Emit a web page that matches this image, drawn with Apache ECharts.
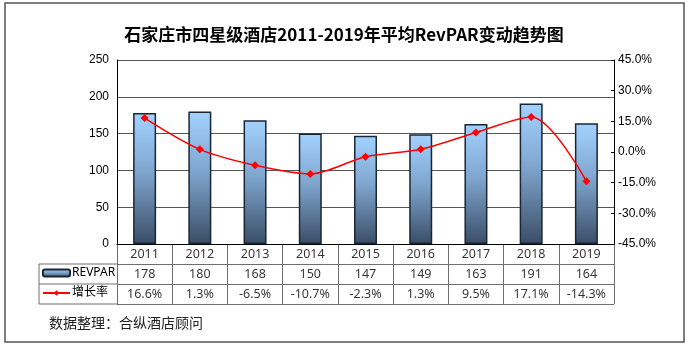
<!DOCTYPE html>
<html><head><meta charset="utf-8">
<script src="https://cdn.jsdelivr.net/npm/echarts@6/dist/echarts.min.js"></script>
<style>html,body{margin:0;padding:0;background:#fff}#c{width:688px;height:348px}</style>
</head><body><div id="c"></div>
<script>
var years = ['2011','2012','2013','2014','2015','2016','2017','2018','2019'];
var revpar = [178, 180, 168, 150, 147, 149, 163, 191, 164];
var growth = [16.6, 1.3, -6.5, -10.7, -2.3, 1.3, 9.5, 17.1, -14.3];
var leftTicks = [0, 50, 100, 150, 200, 250];
var rightTicks = [-45, -30, -15, 0, 15, 30, 45];

var chart = echarts.init(document.getElementById('c'), null, {renderer:'canvas'});
var GL = 117, GR = 688-614, GT = 60, GH = 184;
var FONT = "'Liberation Sans', Arial, sans-serif";
var TFONT = "'Noto Sans', 'Noto Sans CJK SC', sans-serif";

var tableData = [];
years.forEach(function(y,i){
  tableData.push([i, 2.5, y]);
  tableData.push([i, 1.5, String(revpar[i])]);
  tableData.push([i, 0.5, growth[i].toFixed(1) + '%']);
});

var option = {
  backgroundColor: '#fff',
  animation: false,
  title: {
    text: '石家庄市四星级酒店2011-2019年平均RevPAR变动趋势图',
    left: 'center', top: 21,
    textStyle: {fontFamily: "'Noto Sans CJK SC', sans-serif", fontSize: 17, fontWeight: 'bold', color: '#000'}
  },
  legend: [
    {data: ['REVPAR'], left: 42, top: 267, orient: 'vertical', itemWidth: 27, itemHeight: 7, itemGap: 2,
     textStyle: {fontFamily: TFONT, fontSize: 12, color: '#000', padding: [0,0,0,-3]}, padding: 0},
    {data: ['增长率'], left: 42, top: 287, orient: 'vertical', itemWidth: 27, itemHeight: 7, itemGap: 2,
     textStyle: {fontFamily: TFONT, fontSize: 12, color: '#000', padding: [0,0,0,-3]}, padding: 0}
  ],
  grid: [
    {left: GL, right: GR, top: GT, height: GH},
    {left: GL, right: GR, top: 244, height: 60}
  ],
  xAxis: [
    {type: 'category', data: years, gridIndex: 0,
     axisLine: {show: true, lineStyle: {color: '#000', width: 1}},
     axisTick: {show: false}, axisLabel: {show: false}},
    {type: 'category', data: years, gridIndex: 1, boundaryGap: true,
     axisLine: {show: false}, axisTick: {show: false}, axisLabel: {show: false},
     splitLine: {show: true, interval: 0, lineStyle: {color: '#6e6e6e', width: 1}}}
  ],
  yAxis: [
    {type: 'value', gridIndex: 0, min: 0, max: 250, interval: 50,
     axisLine: {show: true, lineStyle: {color: '#000', width: 1}},
     axisTick: {show: false},
     axisLabel: {fontFamily: FONT, fontSize: 12, color: '#000', margin: 8},
     splitLine: {show: true, lineStyle: {color: '#555', width: 1}}},
    {type: 'value', gridIndex: 0, min: -45, max: 45, interval: 15, position: 'right',
     axisLine: {show: true, lineStyle: {color: '#000', width: 1}},
     axisTick: {show: true, inside: true, length: 3, lineStyle: {color: '#000'}},
     axisLabel: {fontFamily: FONT, fontSize: 12, color: '#000', margin: 4, formatter: function(v){return v.toFixed(1)+'%';}},
     splitLine: {show: false}},
    {type: 'value', gridIndex: 1, min: 0, max: 3, interval: 1,
     axisLine: {show: true, lineStyle: {color: '#6e6e6e'}}, axisTick: {show: false}, axisLabel: {show: false},
     splitLine: {show: true, lineStyle: {color: '#6e6e6e', width: 1}}}
  ],
  series: [
    {name: 'REVPAR', type: 'bar', xAxisIndex: 0, yAxisIndex: 0, data: revpar, barWidth: 23,
     itemStyle: {
       color: new echarts.graphic.LinearGradient(0,0,0,1,[
         {offset: 0, color: '#a3d2ff'},
         {offset: 0.45, color: '#7fa6cf'},
         {offset: 1, color: '#3a4d66'}
       ]),
       borderColor: '#1b2634', borderWidth: 1.5
     }},
    {name: '增长率', type: 'line', xAxisIndex: 0, yAxisIndex: 1, data: growth, smooth: 0.3,
     symbol: 'diamond', symbolSize: 8, showSymbol: true,
     lineStyle: {color: '#ff0000', width: 1.5}, itemStyle: {color: '#ff0000'}},
    {name: 'table', type: 'scatter', xAxisIndex: 1, yAxisIndex: 2, data: tableData,
     symbolSize: 1, itemStyle: {color: 'rgba(0,0,0,0)'}, silent: true,
     label: {show: true, position: 'inside', formatter: function(p){return p.data[2];},
       fontFamily: TFONT, fontSize: 12.5, color: '#000'}}
  ],
  graphic: [
    {type: 'rect', shape: {x: 5, y: 3, width: 679, height: 339}, style: {fill: 'none', stroke: '#555', lineWidth: 1.5}, silent: true},
    {type: 'polyline', shape: {points: [[117,264],[39,264],[39,304],[117,304]]}, style: {stroke: '#6e6e6e', lineWidth: 1, fill: 'none'}},
    {type: 'line', shape: {x1: 39, y1: 284, x2: 117, y2: 284}, style: {stroke: '#6e6e6e', lineWidth: 1}},
    {type: 'text', left: 49, top: 316, style: {text: '数据整理：合纵酒店顾问', fontFamily: "'Noto Sans CJK SC', sans-serif", fontSize: 14, fill: '#222'}}
  ]
};
chart.setOption(option);
</script></body></html>
